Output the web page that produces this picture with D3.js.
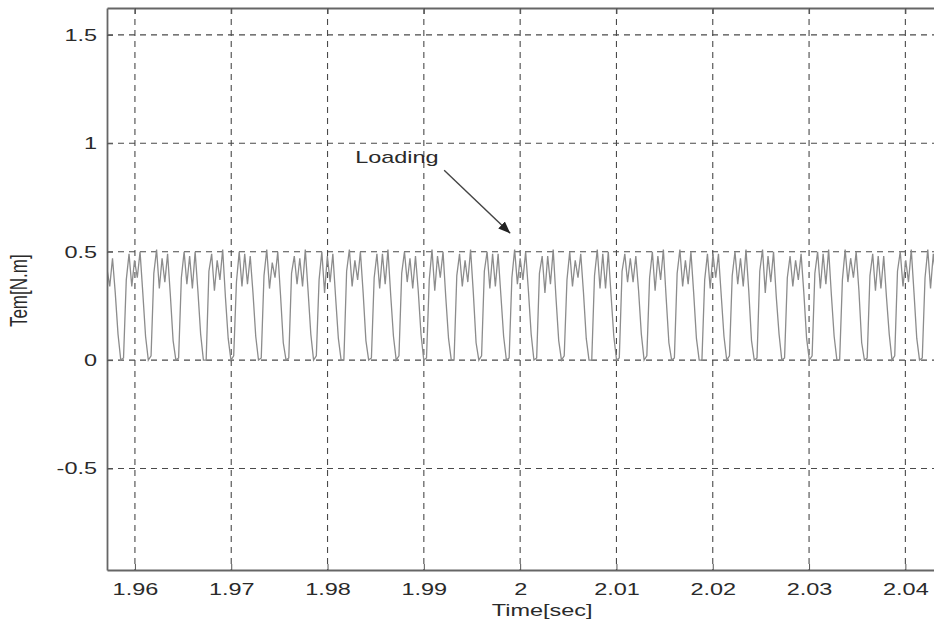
<!DOCTYPE html>
<html><head><meta charset="utf-8">
<script src="https://cdn.jsdelivr.net/npm/d3@7"></script>
<style>
html,body{margin:0;padding:0;background:#fff;overflow:hidden;}
svg{display:block;}
text{font-family:"Liberation Sans",Arial,sans-serif;}
</style></head>
<body>
<script>
// ---- data ----
const xTicks = [1.96, 1.97, 1.98, 1.99, 2.00, 2.01, 2.02, 2.03, 2.04];
const xTickLabels = ["1.96", "1.97", "1.98", "1.99", "2", "2.01", "2.02", "2.03", "2.04"];
const yTicks = [-0.5, 0, 0.5, 1, 1.5];
const yTickLabels = ["-0.5", "0", "0.5", "1", "1.5"];
const xDomain = [1.9571, 2.0437];
const yDomain = [-0.968, 1.624];
const sampleStart = 1.9571;   // s
const sampleStep = 0.000286;  // s
// torque samples (N.m)
const torque = [
 0.42,0.34,0.47,0.31,0.12,
 0.00,0.01,0.37,0.49,0.34,0.46,0.38,0.50,0.31,0.11,
 0.00,0.02,0.40,0.51,0.33,0.47,0.36,0.49,0.30,0.09,
 0.00,0.01,0.38,0.50,0.35,0.48,0.33,0.50,0.32,0.12,
 0.00,0.00,0.41,0.49,0.32,0.46,0.37,0.51,0.29,0.10,
 0.00,0.02,0.36,0.50,0.34,0.49,0.35,0.48,0.31,0.11,
 0.00,0.01,0.39,0.51,0.33,0.45,0.38,0.50,0.30,0.08,
 0.00,0.01,0.40,0.48,0.35,0.47,0.34,0.51,0.32,0.12,
 0.00,0.02,0.37,0.50,0.31,0.48,0.36,0.49,0.29,0.10,
 0.00,0.00,0.41,0.51,0.34,0.46,0.37,0.50,0.31,0.09,
 0.00,0.01,0.38,0.49,0.33,0.49,0.35,0.51,0.30,0.11,
 0.00,0.02,0.40,0.50,0.36,0.47,0.33,0.48,0.32,0.12,
 0.00,0.01,0.37,0.51,0.32,0.48,0.38,0.50,0.29,0.10,
 0.00,0.00,0.39,0.49,0.34,0.46,0.36,0.51,0.31,0.08,
 0.00,0.02,0.41,0.50,0.33,0.49,0.34,0.49,0.30,0.11,
 0.00,0.01,0.38,0.51,0.35,0.47,0.37,0.50,0.32,0.12,
 0.00,0.01,0.40,0.48,0.31,0.48,0.35,0.51,0.29,0.09,
 0.00,0.02,0.37,0.50,0.34,0.46,0.38,0.49,0.31,0.10,
 0.00,0.00,0.39,0.51,0.33,0.49,0.33,0.50,0.30,0.11,
 0.00,0.01,0.41,0.49,0.36,0.47,0.36,0.48,0.32,0.12,
 0.00,0.02,0.38,0.50,0.32,0.48,0.37,0.51,0.29,0.08,
 0.00,0.01,0.40,0.51,0.34,0.46,0.35,0.50,0.31,0.10,
 0.00,0.00,0.37,0.49,0.33,0.49,0.38,0.49,0.30,0.11,
 0.00,0.02,0.39,0.50,0.35,0.47,0.34,0.51,0.32,0.09,
 0.00,0.01,0.41,0.51,0.31,0.48,0.36,0.50,0.29,0.12,
 0.00,0.01,0.38,0.48,0.34,0.46,0.37,0.49,0.31,0.10,
 0.00,0.02,0.40,0.50,0.33,0.49,0.35,0.51,0.30,0.11,
 0.00,0.00,0.37,0.51,0.36,0.47,0.38,0.50,0.32,0.08,
 0.00,0.01,0.39,0.49,0.32,0.48,0.33,0.48,0.29,0.12,
 0.00,0.02,0.41,0.50,0.34,0.46,0.36,0.51,0.31,0.10,
 0.00,0.01,0.38,0.51,0.33,0.49,0.37,0.50,0.30,0.11
];
const annotationText = "Loading";
const annotationTextPos = [1.98287, 0.908];
const annotationArrow = [[1.99211, 0.876], [1.99897, 0.585]];
const xLabel = "Time[sec]";
const yLabel = "Tem[N.m]";

(function () {
// ---- layout ----
const W = 934, H = 634;
const mL = 107, mT = 8, mR = 941, mB = 570;
const FS = 17, SX = 1.38; // font size and horizontal stretch of the scanned text

const svg = d3.select("body").append("svg").attr("width", W).attr("height", H);
const x = d3.scaleLinear().domain(xDomain).range([mL, mR]);
const y = d3.scaleLinear().domain(yDomain).range([mB, mT]);

const defs = svg.append("defs");
defs.append("clipPath").attr("id", "clip")
  .append("rect").attr("x", mL).attr("y", mT).attr("width", mR - mL).attr("height", mB - mT);

// grid
const grid = svg.append("g").attr("stroke", "#4a4a4a").attr("stroke-width", 1.1).attr("stroke-dasharray", "6,5");
grid.selectAll(".gx").data(xTicks).join("line").attr("class", "gx")
  .attr("x1", d => x(d)).attr("x2", d => x(d)).attr("y1", mT).attr("y2", mB);
grid.selectAll(".gy").data(yTicks).join("line").attr("class", "gy")
  .attr("x1", mL).attr("x2", mR).attr("y1", d => y(d)).attr("y2", d => y(d));

// trace
const pts = torque.map((v, i) => [sampleStart + i * sampleStep, v]);
svg.append("path").datum(pts)
  .attr("clip-path", "url(#clip)")
  .attr("fill", "none").attr("stroke", "#8c8c8c").attr("stroke-width", 1.3)
  .attr("d", d3.line().x(d => x(d[0])).y(d => y(d[1])));

// axes (MATLAB-style box with inward ticks)
const xAxis = d3.axisBottom(x).tickValues(xTicks).tickFormat((d, i) => xTickLabels[i]).tickSizeInner(-6).tickSizeOuter(0).tickPadding(13);
const gx = svg.append("g").attr("transform", `translate(0,${mB})`).call(xAxis);
const yAxis = d3.axisLeft(y).tickValues(yTicks).tickFormat((d, i) => yTickLabels[i]).tickSizeInner(-6).tickSizeOuter(0).tickPadding(10);
const gy = svg.append("g").attr("transform", `translate(${mL},0)`).call(yAxis);
const xTop = d3.axisTop(x).tickValues(xTicks).tickFormat("").tickSizeInner(-6).tickSizeOuter(0);
const gt = svg.append("g").attr("transform", `translate(0,${mT})`).call(xTop);
[gx, gy, gt].forEach(g => {
  g.selectAll("path.domain").attr("stroke", "#666").attr("stroke-width", 1.8);
  g.selectAll(".tick line").attr("stroke", "#555");
  g.selectAll("text").attr("font-size", FS).attr("fill", "#2a2a2a");
});
gx.selectAll(".tick text").attr("transform", `scale(${SX},1)`);
gy.selectAll(".tick text").attr("x", -10 / SX).attr("transform", `scale(${SX},1)`);

// labels
svg.append("text").attr("transform", `translate(${x(2.0) + 22},616) scale(${SX},1)`).attr("text-anchor", "middle")
  .attr("font-size", FS).attr("fill", "#2a2a2a").text(xLabel);
svg.append("text").attr("transform", `translate(27,${y(0.32)}) scale(${SX},1) rotate(-90)`).attr("text-anchor", "middle")
  .attr("font-size", FS).attr("fill", "#2a2a2a").text(yLabel);

// annotation
defs.append("marker").attr("id", "ah").attr("viewBox", "0 0 10 10")
  .attr("refX", 10).attr("refY", 5).attr("markerWidth", 12).attr("markerHeight", 12)
  .attr("markerUnits", "userSpaceOnUse").attr("orient", "auto")
  .append("path").attr("d", "M0,1 L10,5 L0,9 Z").attr("fill", "#222");
svg.append("text").attr("transform", `translate(${x(annotationTextPos[0])},${y(annotationTextPos[1])}) scale(${SX},1)`)
  .attr("font-size", FS).attr("fill", "#2a2a2a").text(annotationText);
svg.append("line")
  .attr("x1", x(annotationArrow[0][0])).attr("y1", y(annotationArrow[0][1]))
  .attr("x2", x(annotationArrow[1][0])).attr("y2", y(annotationArrow[1][1]))
  .attr("stroke", "#444").attr("stroke-width", 1.4).attr("marker-end", "url(#ah)");
})();
</script>
</body></html>
